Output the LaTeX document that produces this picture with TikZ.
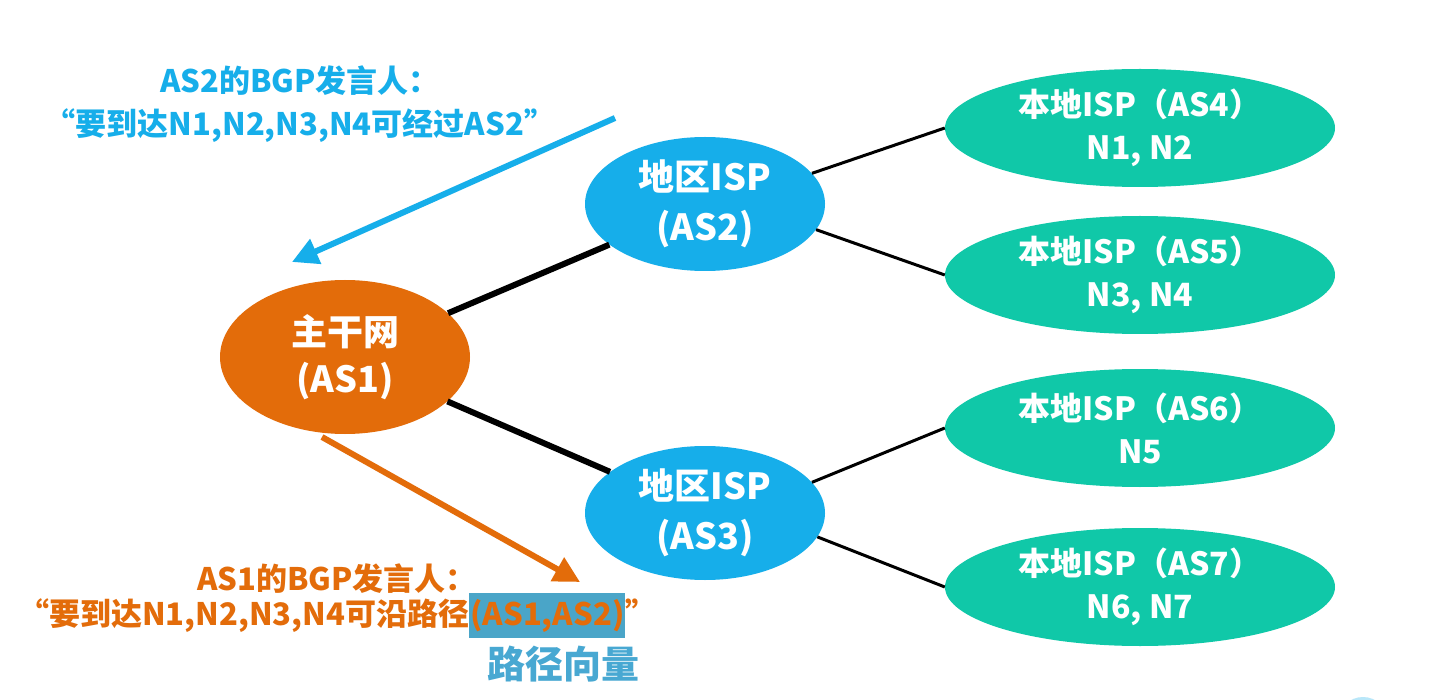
\documentclass[tikz,border=0pt]{standalone}
\usepackage{fontspec}
\setmainfont{Noto Sans CJK SC}
\usetikzlibrary{arrows.meta,shapes.geometric}
\definecolor{asorange}{HTML}{E36C0A}
\definecolor{asblue}{HTML}{16AEEA}
\definecolor{asteal}{HTML}{10C8A8}
\definecolor{hlblue}{HTML}{4AA5C8}
\definecolor{pvblue}{HTML}{48A8D2}
\begin{document}
\begin{tikzpicture}[x=1pt,y=-1pt,
  bb/.style={ellipse,inner sep=0pt,text=white,align=center},
  core/.style={bb,fill=asorange,minimum width=250pt,minimum height=154pt,font=\fontsize{36}{47}\selectfont\bfseries},
  reg/.style={bb,fill=asblue,minimum width=240pt,minimum height=134pt,font=\fontsize{36}{50}\selectfont\bfseries},
  loc/.style={bb,fill=asteal,minimum width=390pt,minimum height=118pt,font=\fontsize{32}{43}\selectfont\bfseries},
  thick link/.style={line width=6pt,black},
  thin link/.style={line width=3pt,black},
  msg/.style={font=\fontsize{31}{43}\selectfont\bfseries,align=center,inner sep=0pt},
  bigarrow/.style={line width=6pt,-{Triangle[length=26pt,width=26pt]}}
]
\useasboundingbox (0,0) rectangle (1429,700);
\fill[white] (0,0) rectangle (1429,700);

% faint partial shape at bottom right
\fill[asblue!30] (1363,722) circle (25);

\node[core] (as1) at (345,357) {主干网\\(AS1)};
\node[reg] (as2) at (705,204) {地区ISP\\(AS2)};
\node[reg] (as3) at (705,513) {地区ISP\\(AS3)};
\node[loc] (as4) at (1140,128) {本地ISP（AS4）\\N1, N2};
\node[loc] (as5) at (1140,275) {本地ISP（AS5）\\N3, N4};
\node[loc] (as6) at (1140,428) {本地ISP（AS6）\\N5};
\node[loc] (as7) at (1140,587) {本地ISP（AS7）\\N6, N7};

% links
\draw[thick link] (as1) -- (as2);
\draw[thick link] (as1) -- (as3);
\draw[thin link] (as2.16) -- (as4.west);
\draw[thin link] (as2.-13) -- (as5.west);
\draw[thin link] (as3.16) -- (as6.west);
\draw[thin link] (as3.-12) -- (as7.west);

% messages
\node[msg,text=asblue] (m2) at (300,104) {AS2的BGP发言人：\\“要到达N1,N2,N3,N4可经过AS2”};
\coordinate (b1) at (615,118);
\coordinate (b2) at (292,262);
\draw[bigarrow,asblue] (b1) -- (b2);

\coordinate (o1) at (322,437);
\coordinate (o2) at (580,582);
\draw[bigarrow,asorange] (o1) -- (o2);

\node[msg,text=asorange,anchor=base] (m1a) at (337,590) {AS1的BGP发言人：};
\node[msg,text=asorange,anchor=base east,inner sep=0pt] (m1c) at (657,625) {”};
\node[msg,text=asorange,anchor=base east,fill=hlblue,inner ysep=6pt,inner xsep=1pt] (m1h) at (m1c.base west) {(AS1,AS2)};
\node[msg,text=asorange,anchor=base east] (m1b) at (m1h.base west) {“要到达N1,N2,N3,N4可沿路径};
\node[msg,text=pvblue,font=\fontsize{38}{44}\selectfont\bfseries,anchor=north] (pv) at (563,646) {路径向量};
\end{tikzpicture}
\end{document}
